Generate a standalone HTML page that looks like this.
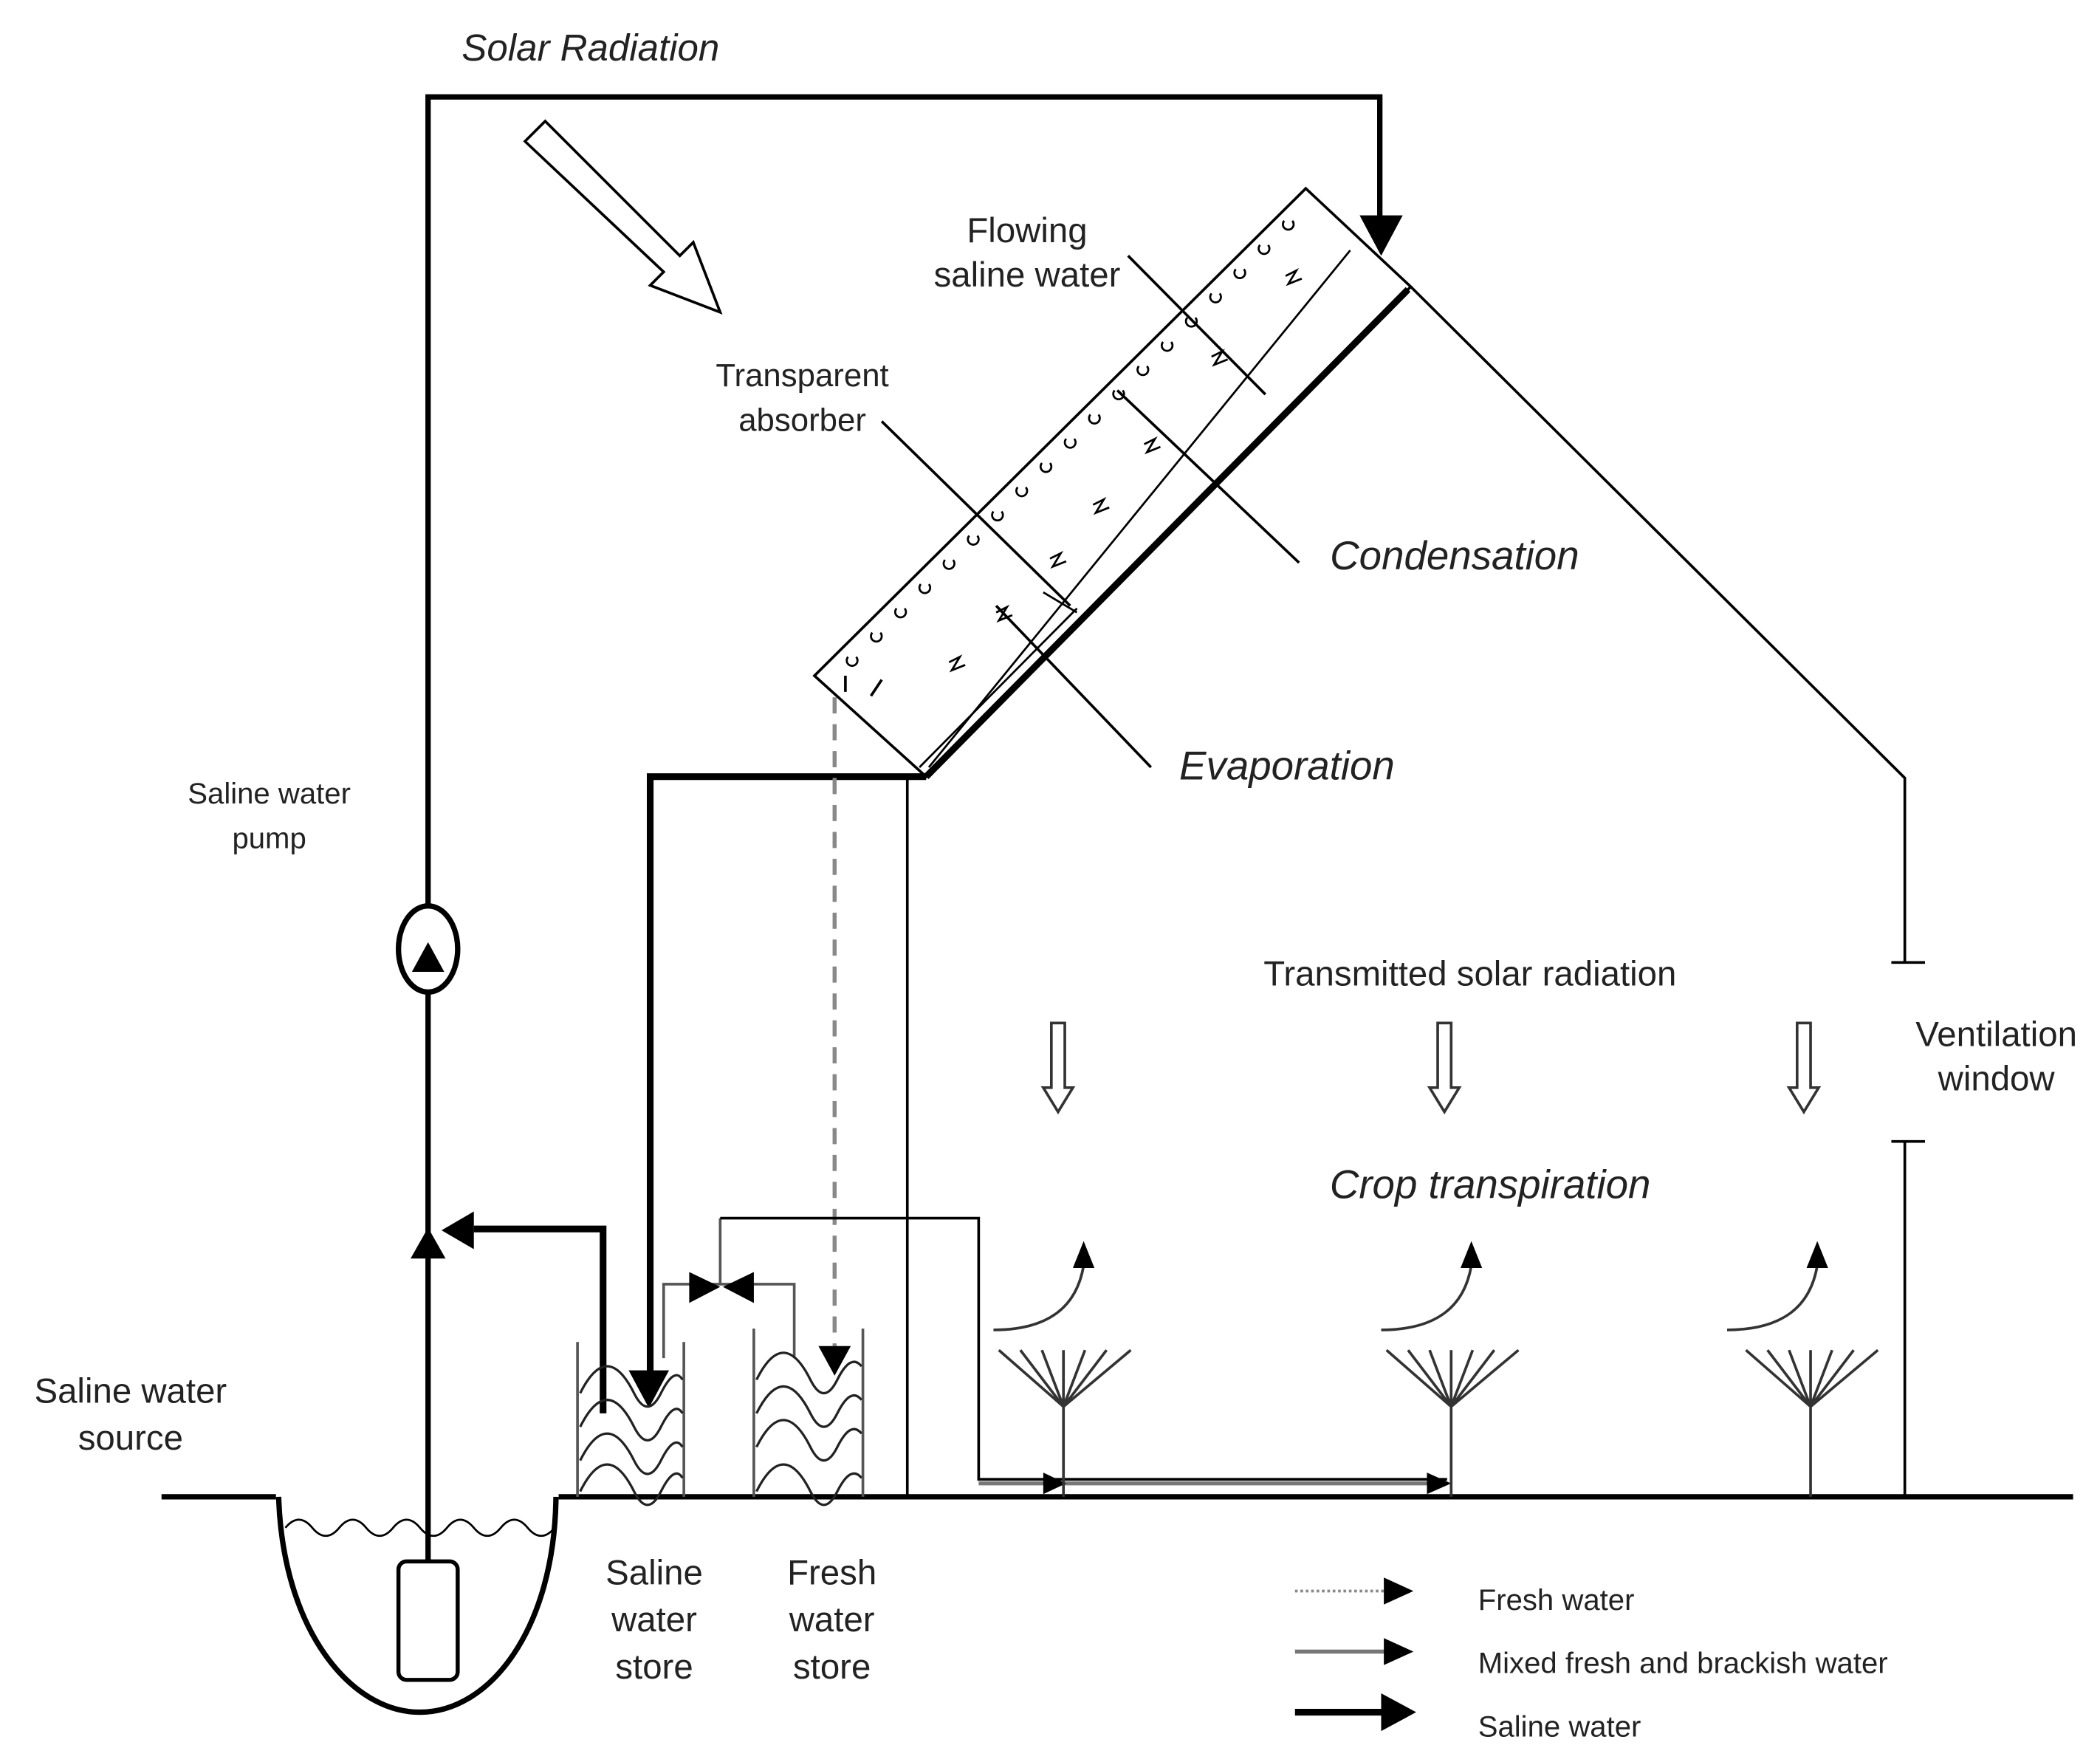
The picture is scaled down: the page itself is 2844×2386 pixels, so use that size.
<!DOCTYPE html>
<html><head><meta charset="utf-8"><style>
html,body{margin:0;padding:0;background:#fff;}
svg{display:block;}
text{font-family:"Liberation Sans",sans-serif;fill:#222;}
.it{font-style:italic;}
</style></head><body>
<svg width="2844" height="2386" viewBox="0 0 1560 1309" preserveAspectRatio="none" xmlns="http://www.w3.org/2000/svg">
<rect width="1560" height="1309" fill="#fff"/>
<!-- top saline pipe -->
<path d="M318,680 V72 H1025 V170" fill="none" stroke="#000" stroke-width="4"/>
<polygon points="1010,160 1042,160 1026,190" fill="#000"/>
<!-- solar hollow arrow -->
<polygon points="390,105 405,90 505,190 515,180 535,232 483,212 493,202" fill="#fff" stroke="#000" stroke-width="2"/>
<!-- panel -->
<polygon points="970,140 1048,213 688,577 605,502" fill="none" stroke="#000" stroke-width="2"/>
<line x1="1046" y1="215" x2="688" y2="577" stroke="#000" stroke-width="5"/>
<line x1="1003" y1="186" x2="690" y2="570" stroke="#000" stroke-width="1.5"/>
<line x1="800" y1="452" x2="683" y2="570" stroke="#000" stroke-width="1.5"/>
<line x1="775" y1="440" x2="800" y2="455" stroke="#000" stroke-width="1.5"/>
<path d="M628,502 v12 M655,505 l-8,12" stroke="#000" stroke-width="2" fill="none"/>
<g fill="none" stroke="#000" stroke-width="1.5">
<path d="M630,488 a4,4 0 1,0 6,0 M648,470 a4,4 0 1,0 6,0 M666,452 a4,4 0 1,0 6,0 M684,434 a4,4 0 1,0 6,0 M702,416 a4,4 0 1,0 6,0 M720,398 a4,4 0 1,0 6,0 M738,380 a4,4 0 1,0 6,0 M756,362 a4,4 0 1,0 6,0 M774,344 a4,4 0 1,0 6,0 M792,326 a4,4 0 1,0 6,0 M810,308 a4,4 0 1,0 6,0 M828,290 a4,4 0 1,0 6,0 M846,272 a4,4 0 1,0 6,0 M864,254 a4,4 0 1,0 6,0 M882,236 a4,4 0 1,0 6,0 M900,218 a4,4 0 1,0 6,0 M918,200 a4,4 0 1,0 6,0 M936,182 a4,4 0 1,0 6,0 M954,164 a4,4 0 1,0 6,0"/>
<path d="M705,492 l8,-4 l-6,10 l10,-4 M740,455 l8,-4 l-6,10 l10,-4 M780,415 l8,-4 l-6,10 l10,-4 M812,375 l8,-4 l-6,10 l10,-4 M850,330 l8,-4 l-6,10 l10,-4 M900,265 l8,-4 l-6,10 l10,-4 M955,205 l8,-4 l-6,10 l10,-4"/>
</g>
<!-- leaders -->
<g stroke="#000" stroke-width="2" fill="none">
<line x1="838" y1="190" x2="940" y2="293"/>
<line x1="655" y1="313" x2="795" y2="450"/>
<line x1="830" y1="290" x2="965" y2="418"/>
<line x1="740" y1="450" x2="855" y2="570"/>
<path d="M1048,213 L1415,578 V715 M1405,715 H1430 M1405,848 H1430 M1415,848 V1112"/>
</g>
<!-- bottom corner pipes -->
<line x1="674" y1="577" x2="674" y2="1112" stroke="#000" stroke-width="2"/>
<path d="M688,577 H483 V1020" fill="none" stroke="#000" stroke-width="5"/>
<polygon points="467,1018 497,1018 482,1046" fill="#000"/>
<line x1="620" y1="518" x2="620" y2="1000" stroke="#888" stroke-width="3" stroke-dasharray="12,8"/>
<polygon points="608,1000 632,1000 620,1022" fill="#000"/>
<!-- ground -->
<path d="M120,1112 H205 M415,1112 H1540" stroke="#000" stroke-width="4"/>
<path d="M207,1112 C210,1210 260,1272 312,1272 C364,1272 412,1210 413,1112" fill="none" stroke="#000" stroke-width="4"/>
<path d="M212,1135 q10,-12 20,0 t20,0 t20,0 t20,0 t20,0 t20,0 t20,0 t20,0 t20,0 t20,0" fill="none" stroke="#000" stroke-width="1.5"/>
<rect x="296" y="1160" width="44" height="88" rx="6" fill="#fff" stroke="#000" stroke-width="3"/>
<!-- main riser -->
<line x1="318" y1="1160" x2="318" y2="730" stroke="#000" stroke-width="4"/>
<polygon points="305,935 331,935 318,912" fill="#000"/>
<ellipse cx="318" cy="705" rx="22" ry="32" fill="#fff" stroke="#000" stroke-width="4"/>
<polygon points="306,722 330,722 318,700" fill="#000"/>
<path d="M448,1050 V913 H352" fill="none" stroke="#000" stroke-width="5"/>
<polygon points="352,900 352,928 328,914" fill="#000"/>
<!-- stores -->
<g stroke="#555" stroke-width="2" fill="none">
<path d="M429,997 V1112 M508,997 V1112 M560,987 V1112 M641,987 V1112"/>
<path d="M493,1009 V954 H590 V1009"/>
<path d="M535,954 V905"/>
</g>
<path d="M535,905 H727 V1099 H1075" fill="none" stroke="#000" stroke-width="2"/>
<line x1="727" y1="1102" x2="1075" y2="1102" stroke="#777" stroke-width="3"/>
<polygon points="775,1094 775,1110 792,1102" fill="#000"/>
<polygon points="1060,1094 1060,1110 1078,1102" fill="#000"/>
<polygon points="512,945 512,968 535,956" fill="#000"/>
<polygon points="560,945 560,968 537,956" fill="#000"/>
<g fill="none" stroke="#222" stroke-width="1.8">
<path d="M431,1035 q10,-20 20,-20 t20,20 t20,0 t16,-10 M431,1060 q10,-20 20,-20 t20,20 t20,0 t16,-10 M431,1085 q10,-20 20,-20 t20,20 t20,0 t16,-10 M431,1108 q10,-20 20,-20 t20,20 t20,0 t16,-10"/>
<path d="M562,1025 q10,-20 20,-20 t20,20 t20,0 t18,-10 M562,1050 q10,-20 20,-20 t20,20 t20,0 t18,-10 M562,1075 q10,-20 20,-20 t20,20 t20,0 t18,-10 M562,1108 q10,-20 20,-20 t20,20 t20,0 t18,-10"/>
</g>
<!-- hollow arrows -->
<g fill="#fff" stroke="#333" stroke-width="2">
<path d="M781,760 H791 V808 H797 L786,826 L775,808 H781 Z"/>
<path d="M1068,760 H1078 V808 H1084 L1073,826 L1062,808 H1068 Z"/>
<path d="M1335,760 H1345 V808 H1351 L1340,826 L1329,808 H1335 Z"/>
</g>
<!-- plants -->
<g stroke="#333" stroke-width="2" fill="none">
<path d="M790,1112 V1035 M790,1045 L742,1003 M790,1045 L758,1003 M790,1045 L774,1003 M790,1035 V1003 M790,1045 L806,1003 M790,1045 L822,1003 M790,1045 L840,1003"/>
<path d="M1078,1112 V1035 M1078,1045 L1030,1003 M1078,1045 L1046,1003 M1078,1045 L1062,1003 M1078,1035 V1003 M1078,1045 L1094,1003 M1078,1045 L1110,1003 M1078,1045 L1128,1003"/>
<path d="M1345,1112 V1035 M1345,1045 L1297,1003 M1345,1045 L1313,1003 M1345,1045 L1329,1003 M1345,1035 V1003 M1345,1045 L1361,1003 M1345,1045 L1377,1003 M1345,1045 L1395,1003"/>
<path d="M738,988 C780,988 800,970 805,940"/>
<path d="M1026,988 C1068,988 1088,970 1093,940"/>
<path d="M1283,988 C1325,988 1345,970 1350,940"/>
</g>
<polygon points="797,942 813,942 805,922" fill="#000"/>
<polygon points="1085,942 1101,942 1093,922" fill="#000"/>
<polygon points="1342,942 1358,942 1350,922" fill="#000"/>
<!-- legend -->
<line x1="962" y1="1182" x2="1030" y2="1182" stroke="#888" stroke-width="2" stroke-dasharray="2,2"/>
<polygon points="1028,1172 1028,1192 1050,1182" fill="#000"/>
<line x1="962" y1="1227" x2="1030" y2="1227" stroke="#777" stroke-width="3"/>
<polygon points="1028,1217 1028,1237 1050,1227" fill="#000"/>
<line x1="962" y1="1272" x2="1030" y2="1272" stroke="#000" stroke-width="5"/>
<polygon points="1026,1258 1026,1286 1052,1272" fill="#000"/>
<!-- text -->
<text x="343" y="45" font-size="28" class="it">Solar Radiation</text>
<text x="763" y="180" font-size="26" text-anchor="middle">Flowing</text>
<text x="763" y="213" font-size="26" text-anchor="middle">saline water</text>
<text x="596" y="287" font-size="24" text-anchor="middle">Transparent</text>
<text x="596" y="320" font-size="24" text-anchor="middle">absorber</text>
<text x="988" y="423" font-size="30" class="it">Condensation</text>
<text x="876" y="579" font-size="30" class="it">Evaporation</text>
<text x="200" y="597" font-size="22" text-anchor="middle">Saline water</text>
<text x="200" y="630" font-size="22" text-anchor="middle">pump</text>
<text x="1092" y="732" font-size="26" text-anchor="middle">Transmitted solar radiation</text>
<text x="1483" y="777" font-size="26" text-anchor="middle">Ventilation</text>
<text x="1483" y="810" font-size="26" text-anchor="middle">window</text>
<text x="1107" y="890" font-size="30" class="it" text-anchor="middle">Crop transpiration</text>
<text x="97" y="1042" font-size="26" text-anchor="middle">Saline water</text>
<text x="97" y="1077" font-size="26" text-anchor="middle">source</text>
<text x="486" y="1177" font-size="26" text-anchor="middle">Saline</text>
<text x="486" y="1212" font-size="26" text-anchor="middle">water</text>
<text x="486" y="1247" font-size="26" text-anchor="middle">store</text>
<text x="618" y="1177" font-size="26" text-anchor="middle">Fresh</text>
<text x="618" y="1212" font-size="26" text-anchor="middle">water</text>
<text x="618" y="1247" font-size="26" text-anchor="middle">store</text>
<text x="1098" y="1196" font-size="22">Fresh water</text>
<text x="1098" y="1243" font-size="22">Mixed fresh and brackish water</text>
<text x="1098" y="1290" font-size="22">Saline water</text>
</svg>
</body></html>
